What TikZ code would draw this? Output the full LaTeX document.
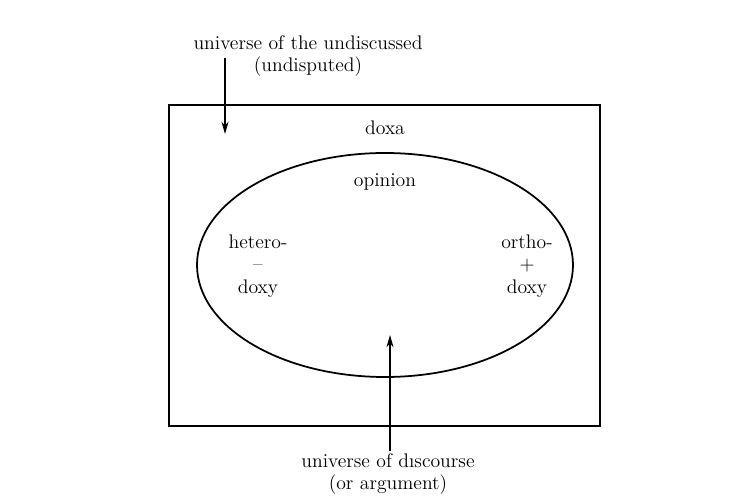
\documentclass[tikz,border=0pt]{standalone}
\usetikzlibrary{arrows.meta, shapes.geometric}
\begin{document}
\begin{tikzpicture}[
      font=\fontsize{11.2}{12.8}\selectfont,
      rahmen/.style={draw, line width=1pt},
      feld/.style={draw, line width=1pt, ellipse, minimum width=7.52cm, minimum height=4.48cm},
      etikett/.style={align=center, inner sep=1pt},
      pfeil/.style={-{Stealth[length=7pt, width=4pt]}, line width=0.8pt}
    ]
      \useasboundingbox (0,0) rectangle (14.92,-10.08);
      \draw[rahmen] (3.38,-2.10) rectangle (12.0,-8.52);
      \node[feld] (opinionfeld) at (7.70,-5.30) {};
      \node[etikett] (doxa) at (7.70,-2.56) {doxa};
      \node[etikett] (opinion) at (7.70,-3.64) {opinion};
      \node[etikett] (hetero) at (5.16,-5.32) {hetero-\\--\\doxy};
      \node[etikett] (ortho) at (10.54,-5.32) {ortho-\\+\\doxy};
      \node[etikett] (undiscussed) at (6.16,-1.12) {universe of the undiscussed\\(undisputed)};
      \node[etikett] (discourse) at (7.76,-9.48) {universe of d\i scourse\\(or argument)};
      \coordinate (obenstart) at (4.50,-1.16);
      \coordinate (obenziel) at (4.50,-2.68);
      \coordinate (untenziel) at (7.80,-6.70);
      \draw[pfeil] (obenstart) -- (obenziel);
      \draw[pfeil] (discourse.north -| untenziel) -- (untenziel);
    \end{tikzpicture}
\end{document}
